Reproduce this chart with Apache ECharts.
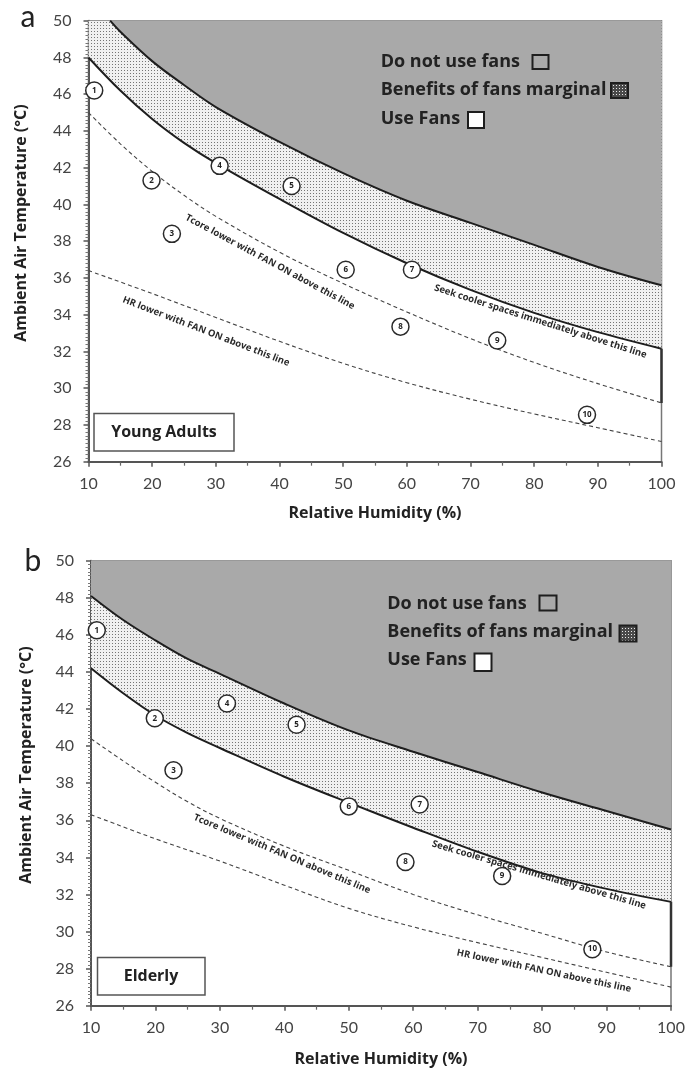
<!DOCTYPE html>
<html>
<head>
<meta charset="utf-8">
<script src="https://cdn.jsdelivr.net/npm/echarts@6/dist/echarts.min.js"></script>
<style>
html,body{margin:0;padding:0;background:#fff;}
#chart{width:688px;height:1068px;}
</style>
</head>
<body>
<div id="chart"></div>
<script>
// ---------- Data (RH %, Temperature °C) ----------
const xTicks = [10, 20, 30, 40, 50, 60, 70, 80, 90, 100];
const yTicks = [26, 28, 30, 32, 34, 36, 38, 40, 42, 44, 46, 48, 50];

// Panel a – Young Adults
const upperA = [[13.4,50],[15,49.4],[20,47.8],[25,46.5],[30,45.3],[40,43.4],[50,41.7],[60,40.2],[70,39.0],[80,37.8],[90,36.6],[100,35.6]];
const lowerA = [[10,48.0],[15,46.2],[20,44.65],[25,43.35],[30,42.25],[40,40.3],[50,38.45],[60,36.8],[70,35.35],[80,34.1],[90,33.05],[100,32.15]];
const tcoreA = [[10,45.0],[15,43.3],[20,41.8],[25,40.5],[30,39.35],[40,37.4],[50,35.7],[60,34.15],[70,32.7],[80,31.4],[90,30.25],[100,29.2]];
const hrA    = [[10,36.4],[20,35.15],[30,33.85],[40,32.55],[50,31.35],[60,30.3],[70,29.4],[80,28.6],[90,27.85],[100,27.1]];
const pointsA = [[10.9,46.2],[19.9,41.3],[23.1,38.4],[30.6,42.1],[41.9,41.0],[50.4,36.45],[60.8,36.45],[59.0,33.35],[74.2,32.6],[88.3,28.55]];

// Panel b – Elderly
const upperB = [[10,48.1],[15,46.8],[20,45.7],[25,44.7],[30,43.9],[40,42.3],[50,40.85],[60,39.7],[70,38.6],[80,37.5],[90,36.5],[100,35.5]];
const lowerB = [[10,44.2],[15,42.85],[20,41.65],[25,40.7],[30,39.9],[40,38.35],[50,36.95],[60,35.6],[70,34.3],[80,33.15],[90,32.3],[100,31.6]];
const tcoreB = [[10,40.4],[15,39.2],[20,38.05],[25,37.0],[30,36.1],[40,34.6],[50,33.3],[60,32.0],[70,30.9],[80,29.9],[90,28.9],[100,28.1]];
const hrB    = [[10,36.3],[20,35.0],[30,33.8],[40,32.5],[50,31.25],[60,30.25],[70,29.4],[80,28.6],[90,27.8],[100,27.0]];
const pointsB = [[10.9,46.25],[19.9,41.5],[22.8,38.7],[31.1,42.3],[41.9,41.15],[50.0,36.75],[61.0,36.85],[58.8,33.75],[73.8,33.0],[87.8,29.05]];

const legendLabels = ['Do not use fans', 'Benefits of fans marginal', 'Use Fans'];
const annotTcore = 'Tcore lower with FAN ON above this line';
const annotHR = 'HR lower with FAN ON above this line';
const annotSeek = 'Seek cooler spaces immediately above this line';

// ---------- Patterns ----------
function makePattern(bg, dot) {
  const c = document.createElement('canvas');
  c.width = 3; c.height = 3;
  const g = c.getContext('2d');
  g.fillStyle = bg; g.fillRect(0, 0, 3, 3);
  g.fillStyle = dot; g.fillRect(1, 1, 1, 1);
  return c;
}
const dotsFill = { image: makePattern('#f0f0f0', '#747474'), repeat: 'repeat' };
const dotsDark = { image: makePattern('#4a4a4a', '#e8e8e8'), repeat: 'repeat' };
const DARK = '#a9a9a9';
const FONT = '"Open Sans", Lato, sans-serif';
const TICKFONT = 'Lato, "Open Sans", sans-serif';

// ---------- Axes ----------
function xAxisFor(gi) {
  return {
    type: 'value', gridIndex: gi, min: xTicks[0], max: xTicks[xTicks.length - 1], interval: 10,
    axisLine: { show: true, onZero: false, lineStyle: { color: '#555', width: 2 } },
    axisTick: { show: true, length: 5, lineStyle: { color: '#555', width: 1.5 } },
    minorTick: { show: true, splitNumber: 2, length: 4, lineStyle: { color: '#666', width: 1.2 } },
    splitLine: { show: false },
    axisLabel: { fontSize: 16, color: '#444', fontFamily: TICKFONT, margin: 14 }
  };
}
function yAxisFor(gi) {
  return {
    type: 'value', gridIndex: gi, min: yTicks[0], max: yTicks[yTicks.length - 1], interval: 2,
    axisLine: { show: true, onZero: false, lineStyle: { color: '#555', width: 2 } },
    axisTick: { show: true, length: 5, lineStyle: { color: '#555', width: 1.5 } },
    minorTick: { show: true, splitNumber: 10, length: 3, lineStyle: { color: '#777', width: 1 } },
    splitLine: { show: false },
    axisLabel: { fontSize: 16, color: '#444', fontFamily: TICKFONT, margin: 17 }
  };
}

// ---------- Series ----------
function panelSeries(gi, upper, lower, tcore, hr, pts) {
  const common = { xAxisIndex: gi, yAxisIndex: gi, symbol: 'none', smooth: 0.35, silent: true };
  const lastL = lower[lower.length - 1], lastT = tcore[tcore.length - 1];
  return [
    Object.assign({}, common, {
      type: 'line', data: lower, z: 2,
      lineStyle: { color: '#1e1e1e', width: 2 },
      areaStyle: { origin: 'end', color: dotsFill, opacity: 1 }
    }),
    Object.assign({}, common, {
      type: 'line', data: upper, z: 3,
      lineStyle: { color: '#1e1e1e', width: 2 },
      areaStyle: { origin: 'end', color: DARK, opacity: 1 }
    }),
    Object.assign({}, common, {
      type: 'line', data: tcore, z: 4,
      lineStyle: { color: '#444', width: 1.1, type: [4, 3] }
    }),
    Object.assign({}, common, {
      type: 'line', data: hr, z: 4,
      lineStyle: { color: '#444', width: 1.1, type: [4, 3] }
    }),
    Object.assign({}, common, {
      type: 'line', smooth: false, z: 4,
      data: [[lastL[0], lastL[1]], [lastT[0], lastT[1]]],
      lineStyle: { color: '#333', width: 2.5 }
    }),
    {
      type: 'scatter', xAxisIndex: gi, yAxisIndex: gi, data: pts, z: 6, silent: true,
      symbol: 'circle', symbolSize: 17,
      itemStyle: { color: '#fff', borderColor: '#2a2a2a', borderWidth: 1.5, opacity: 1 },
      label: {
        show: true, position: 'inside', formatter: p => String(p.dataIndex + 1),
        fontSize: 8, fontWeight: 'bold', color: '#222', fontFamily: FONT
      }
    }
  ];
}

// ---------- Graphic (texts, legend boxes, labels) ----------
function txt(x, y, text, font, opts) {
  return Object.assign({
    type: 'text', x: x, y: y, z: 100,
    style: Object.assign({ text: text, font: font, fill: '#222', align: 'left', verticalAlign: 'middle' }, (opts && opts.style) || {})
  }, opts && opts.rotation !== undefined ? { rotation: opts.rotation } : {});
}
function box(x, y, w, h, fill) {
  return { type: 'rect', z: 100, shape: { x: x, y: y, width: w, height: h },
    style: { fill: fill, stroke: '#1e1e1e', lineWidth: 2 } };
}
const deg = Math.PI / 180;
const LEG = 'bold 18px ' + FONT;
const TITLE = 'bold 16px ' + FONT;
const ANN = 'bold 9.5px ' + FONT;

const graphics = [
  // Panel a
  txt(28, 17, 'a', 'normal 30px ' + TICKFONT, { style: { align: 'center', fill: '#222' } }),
  txt(21.5, 223, 'Ambient Air Temperature (°C)', TITLE, { rotation: Math.PI / 2, style: { align: 'center' } }),
  txt(375, 513, 'Relative Humidity (%)', TITLE, { style: { align: 'center' } }),
  txt(380.7, 62, legendLabels[0], LEG),
  box(532.5, 55, 16, 14, DARK),
  txt(380.7, 90, legendLabels[1], LEG),
  box(611, 83, 17, 15, dotsDark),
  txt(380.7, 118.5, legendLabels[2], LEG),
  box(468, 112, 16, 16, '#fff'),
  { type: 'rect', z: 100, shape: { x: 94, y: 413.5, width: 140, height: 37.5 }, style: { fill: '#fff', stroke: '#555', lineWidth: 1.5 } },
  txt(164, 432, 'Young Adults', TITLE, { style: { align: 'center' } }),
  txt(270, 262, annotTcore, ANN, { rotation: -28.2 * deg, style: { align: 'center', fill: '#2a2a2a' } }),
  txt(206, 331.5, annotHR, ANN, { rotation: -21.1 * deg, style: { align: 'center', fill: '#2a2a2a' } }),
  txt(540.5, 321.5, annotSeek, ANN, { rotation: -17.7 * deg, style: { align: 'center', fill: '#2a2a2a' } }),

  // Panel b
  txt(33, 561, 'b', 'normal 30px ' + TICKFONT, { style: { align: 'center', fill: '#222' } }),
  txt(26.5, 765, 'Ambient Air Temperature (°C)', TITLE, { rotation: Math.PI / 2, style: { align: 'center' } }),
  txt(381, 1059, 'Relative Humidity (%)', TITLE, { style: { align: 'center' } }),
  txt(387.3, 603.5, legendLabels[0], LEG),
  box(539.5, 595.5, 17, 15, DARK),
  txt(387.3, 632, legendLabels[1], LEG),
  box(619.5, 625.5, 17, 16, dotsDark),
  txt(387.3, 660, legendLabels[2], LEG),
  box(474.5, 653.5, 17, 17.5, '#fff'),
  { type: 'rect', z: 100, shape: { x: 97.5, y: 957.5, width: 107.5, height: 37.5 }, style: { fill: '#fff', stroke: '#555', lineWidth: 1.5 } },
  txt(151, 976, 'Elderly', TITLE, { style: { align: 'center' } }),
  txt(282, 854, annotTcore, ANN, { rotation: -22.8 * deg, style: { align: 'center', fill: '#2a2a2a' } }),
  txt(539, 875, annotSeek, ANN, { rotation: -16.3 * deg, style: { align: 'center', fill: '#2a2a2a' } }),
  txt(544, 971, annotHR, ANN, { rotation: -11.9 * deg, style: { align: 'center', fill: '#2a2a2a' } })
];

const option = {
  backgroundColor: '#fff',
  animation: false,
  grid: [
    { left: 88.5, top: 20.7, width: 573, height: 441, show: true, borderColor: '#777', borderWidth: 1.5, backgroundColor: 'transparent' },
    { left: 91, top: 560.7, width: 580, height: 445, show: true, borderColor: '#777', borderWidth: 1.5, backgroundColor: 'transparent' }
  ],
  xAxis: [xAxisFor(0), xAxisFor(1)],
  yAxis: [yAxisFor(0), yAxisFor(1)],
  series: [].concat(
    panelSeries(0, upperA, lowerA, tcoreA, hrA, pointsA),
    panelSeries(1, upperB, lowerB, tcoreB, hrB, pointsB)
  ),
  graphic: graphics
};

const chart = echarts.init(document.getElementById('chart'), null, { renderer: 'canvas' });
chart.setOption(option);
</script>
</body>
</html>
